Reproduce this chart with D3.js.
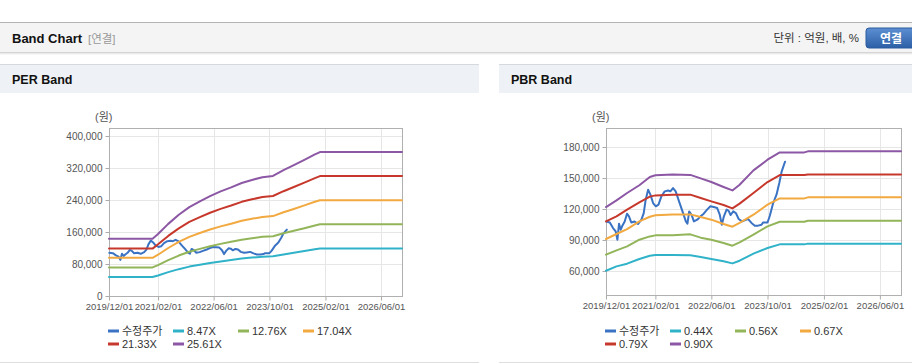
<!DOCTYPE html>
<html>
<head>
<meta charset="utf-8">
<script src="https://cdn.jsdelivr.net/npm/d3@7"></script>
<style>
  body { margin: 0; background: #fff; }
  svg { display: block; font-family: "Liberation Sans", "Noto Sans CJK KR", sans-serif; }
</style>
</head>
<body>
<div id="chart"></div>
<script>
// x axis
const xDomain = ["2019-12-01", "2026-12-01"]
const xTickDates = ["2019-12-01", "2021-02-01", "2022-06-01", "2023-10-01", "2025-02-01", "2026-06-01"]

// 수정주가 (shared by both charts)
const priceDates = [
  "2019-12-04", "2020-01-03", "2020-01-31", "2020-02-23", "2020-03-09", "2020-03-23", "2020-04-07", "2020-04-21",
  "2020-05-11", "2020-05-31", "2020-06-17", "2020-07-07", "2020-08-05", "2020-09-03", "2020-10-03", "2020-10-23",
  "2020-11-09", "2020-11-30", "2020-12-20", "2021-01-12", "2021-02-05", "2021-02-28", "2021-03-25", "2021-04-23",
  "2021-05-22", "2021-06-11", "2021-07-04", "2021-07-27", "2021-08-25", "2021-09-24", "2021-10-23", "2021-11-06",
  "2021-11-21", "2021-12-11", "2022-01-01", "2022-01-30", "2022-02-28", "2022-03-27", "2022-04-25", "2022-05-24",
  "2022-06-22", "2022-07-21", "2022-08-13", "2022-08-31", "2022-09-18", "2022-10-11", "2022-10-28", "2022-11-15",
  "2022-12-08", "2022-12-31", "2023-01-24", "2023-02-22", "2023-03-17", "2023-04-16", "2023-05-15", "2023-06-13",
  "2023-07-12", "2023-08-10", "2023-08-24", "2023-10-01", "2023-10-21", "2023-11-19", "2023-12-18", "2024-01-11",
  "2024-02-01", "2024-03-01"
]
const priceValues = [
  108000, 107000, 101600, 98400, 90300, 105800, 100000, 103900,
  108000, 115500, 112900, 107000, 108000, 105500, 109700, 116100,
  129000, 138700, 133900, 125800, 122600, 124200, 132300, 137100,
  138000, 137100, 140300, 137100, 127400, 117700, 108000, 105800,
  117700, 114500, 108000, 109700, 112900, 115500, 119400, 122600,
  121900, 121000, 114500, 104800, 112900, 119400, 118400, 114200,
  117700, 116100, 110300, 108000, 109000, 110300, 106500, 103900,
  103900, 104800, 107000, 107000, 113500, 125800, 133900, 145200,
  156500, 165800
]

// PER band
const perBandDates = [
  "2019-12-01", "2020-12-15", "2021-02-01", "2021-05-01", "2021-08-01", "2021-11-01", "2022-02-01",
  "2022-05-01", "2022-08-01", "2022-11-01", "2023-02-01", "2023-05-01", "2023-08-01", "2023-11-01",
  "2024-02-01", "2024-05-01", "2024-08-01", "2024-11-01", "2024-12-15", "2026-12-01"
]
const perLabels = ["8.47X", "12.76X", "17.04X", "21.33X", "25.61X"]
const per847 = [47400, 47400, 51300, 59600, 67100, 73500, 78200, 82600, 86500, 89900, 93500, 96000, 98200, 99300, 104000, 108100, 112600, 117000, 119000, 119000]
const per1276 = [71400, 71400, 77300, 89800, 101100, 110700, 117800, 124500, 130300, 135400, 140800, 144600, 147900, 149600, 156700, 162900, 169600, 176300, 179300, 179300]
const per1704 = [95400, 95400, 103200, 120000, 135100, 147900, 157400, 166300, 174100, 180800, 188000, 193100, 197600, 199800, 209300, 217600, 226600, 235500, 239400, 239400]
const per2133 = [118500, 118500, 129200, 150200, 169100, 185100, 197000, 208100, 217900, 226300, 235400, 241700, 247300, 250000, 262000, 272400, 283600, 294800, 299700, 299700]
const per2561 = [143400, 143400, 155100, 180300, 203000, 222200, 236500, 249900, 261600, 271700, 282600, 290200, 296900, 300200, 314500, 327000, 340500, 353900, 359800, 359800]
const perYTicks = [0, 80000, 160000, 240000, 320000, 400000]

// PBR band
const pbrBandDates = [
  "2019-12-01", "2020-03-01", "2020-06-01", "2020-09-15", "2020-12-15", "2021-02-01", "2021-07-01",
  "2021-12-01", "2022-03-01", "2022-06-01", "2022-09-15", "2022-12-01", "2023-02-01", "2023-06-01",
  "2023-10-01", "2024-01-15", "2024-08-15", "2024-09-15", "2026-12-01"
]
const pbrLabels = ["0.44X", "0.56X", "0.67X", "0.79X", "0.90X"]
const pbr044 = [60300, 64500, 67100, 71600, 74800, 75500, 75400, 75200, 73500, 71600, 69400, 67400, 70000, 76800, 82300, 85800, 85800, 86500, 86500]
const pbr056 = [75800, 80000, 83900, 90300, 93500, 94500, 94500, 95500, 92300, 90300, 87100, 84500, 87700, 95200, 103200, 107700, 107700, 108700, 108700]
const pbr067 = [91000, 95800, 100600, 108000, 112500, 113900, 114800, 114800, 112300, 109700, 105500, 102900, 106500, 114500, 124200, 130300, 130300, 131300, 131300]
const pbr079 = [108000, 112900, 119400, 126500, 132000, 133200, 133800, 133900, 130600, 127400, 123900, 120600, 125200, 135500, 146100, 152900, 152900, 153500, 153500]
const pbr090 = [121900, 128400, 135500, 143000, 151000, 152600, 153500, 153000, 149700, 146100, 141300, 138000, 143500, 157400, 167700, 174800, 174800, 175800, 175800]
const pbrYTicks = [60000, 90000, 120000, 150000, 180000]

const priceLabel = "수정주가"
const colors = ["#3b73c4", "#30b2c9", "#93b55a", "#f2a940", "#c7382c", "#8c57a4"]

const W = 912, H = 364
const parse = d3.timeParse("%Y-%m-%d")

const svg = d3.select("#chart").append("svg")
  .attr("width", W)
  .attr("height", H)

const defs = svg.append("defs")
const shadow = defs.append("linearGradient").attr("id", "shadow").attr("x1", 0).attr("y1", 0).attr("x2", 0).attr("y2", 1)
shadow.append("stop").attr("offset", 0).attr("stop-color", "#c8c8c8")
shadow.append("stop").attr("offset", 1).attr("stop-color", "#fff").attr("stop-opacity", 0)
const btn = defs.append("linearGradient").attr("id", "btn").attr("x1", 0).attr("y1", 0).attr("x2", 0).attr("y2", 1)
btn.append("stop").attr("offset", 0).attr("stop-color", "#5b8fd2")
btn.append("stop").attr("offset", 1).attr("stop-color", "#2d5fa6")

// Top header bar
svg.append("rect").attr("x", 0).attr("y", 22).attr("width", W).attr("height", 30).attr("fill", "#f4f4f4")
svg.append("line").attr("x1", 0).attr("x2", W).attr("y1", 22.5).attr("y2", 22.5).attr("stroke", "#b4b4b4")
svg.append("rect").attr("x", 0).attr("y", 52).attr("width", W).attr("height", 4).attr("fill", "url(#shadow)")
svg.append("text").attr("x", 12).attr("y", 43)
  .attr("font-size", 13).attr("font-weight", "bold").attr("fill", "#111")
  .text("Band Chart")
svg.append("text").attr("x", 88).attr("y", 43)
  .attr("font-size", 11.5).attr("fill", "#999")
  .text("[연결]")
svg.append("text").attr("x", 859).attr("y", 42)
  .attr("text-anchor", "end").attr("font-size", 11.5).attr("fill", "#333")
  .text("단위 : 억원, 배, %")
svg.append("rect").attr("x", 866).attr("y", 28).attr("width", 52).attr("height", 20).attr("rx", 3)
  .attr("fill", "url(#btn)").attr("stroke", "#2b5a9c")
svg.append("text").attr("x", 891).attr("y", 42.5)
  .attr("text-anchor", "middle").attr("font-size", 12).attr("font-weight", "bold").attr("fill", "#fff")
  .text("연결")

function drawPanel(cfg) {
  const g = svg.append("g")

  // panel header + body
  g.append("rect").attr("x", cfg.px).attr("y", 64).attr("width", cfg.pw).attr("height", 29).attr("fill", "#eef1f5")
  g.append("line").attr("x1", cfg.px).attr("x2", cfg.px + cfg.pw).attr("y1", 64.5).attr("y2", 64.5).attr("stroke", "#d6dae0")
  g.append("line").attr("x1", cfg.px).attr("x2", cfg.px + cfg.pw).attr("y1", 362.5).attr("y2", 362.5).attr("stroke", "#dedede")
  g.append("text").attr("x", cfg.px + 12).attr("y", 84)
    .attr("font-size", 12.5).attr("font-weight", "bold").attr("fill", "#111")
    .text(cfg.title)

  const x = d3.scaleTime().domain(xDomain.map(parse)).range([cfg.left, cfg.right])
  const y = d3.scaleLinear().domain(cfg.yDomain).range([cfg.bottom, cfg.top])
  const xTicks = xTickDates.map(parse)

  // grid
  g.append("g").selectAll("line").data(cfg.yTicks).join("line")
    .attr("x1", cfg.left).attr("x2", cfg.right)
    .attr("y1", d => Math.round(y(d)) + 0.5).attr("y2", d => Math.round(y(d)) + 0.5)
    .attr("stroke", "#e6e6e6")
  g.append("g").selectAll("line").data(xTicks).join("line")
    .attr("x1", d => Math.round(x(d)) + 0.5).attr("x2", d => Math.round(x(d)) + 0.5)
    .attr("y1", cfg.top).attr("y2", cfg.bottom)
    .attr("stroke", "#e6e6e6")

  // axes
  const yAxis = g.append("g")
    .attr("transform", `translate(${cfg.left + 0.5},0)`)
    .call(d3.axisLeft(y).tickValues(cfg.yTicks).tickSize(4).tickPadding(3).tickFormat(d3.format(",")))
  yAxis.select(".domain").remove()
  yAxis.selectAll("line").attr("stroke", "#aaa")
  yAxis.selectAll("text").attr("font-size", 10).attr("fill", "#555").attr("font-family", "Liberation Sans")

  const xAxis = g.append("g")
    .attr("transform", `translate(0,${cfg.bottom + 0.5})`)
    .call(d3.axisBottom(x).tickValues(xTicks).tickSize(4).tickPadding(3).tickFormat(d3.timeFormat("%Y/%m/%d")))
  xAxis.select(".domain").remove()
  xAxis.selectAll("line").attr("stroke", "#aaa")
  xAxis.selectAll("text").attr("font-size", 9.5).attr("fill", "#555").attr("font-family", "Liberation Sans")

  g.append("rect")
    .attr("x", cfg.left + 0.5).attr("y", cfg.top + 0.5)
    .attr("width", cfg.right - cfg.left).attr("height", cfg.bottom - cfg.top)
    .attr("fill", "none").attr("stroke", "#b0b0b0")

  g.append("text").attr("x", cfg.left - 14).attr("y", 121)
    .attr("font-size", 11).attr("fill", "#555")
    .text("(원)")

  // lines
  const line = d3.line().x(d => x(d[0])).y(d => y(d[1]))
  const series = [{ label: priceLabel, dates: priceDates, values: priceValues }]
  cfg.bands.forEach((vals, i) => series.push({ label: cfg.labels[i], dates: cfg.bandDates, values: vals }))

  g.append("g").selectAll("path").data(series).join("path")
    .attr("d", s => line(s.dates.map((d, i) => [parse(d), s.values[i]])))
    .attr("fill", "none")
    .attr("stroke", (s, i) => colors[i])
    .attr("stroke-width", 2)
    .attr("stroke-linejoin", "round")
    .attr("stroke-linecap", "round")

  // legend
  const leg = g.append("g").selectAll("g").data(series).join("g")
    .attr("transform", (s, i) => `translate(${cfg.left - 1 + (i % 4) * 65},${i < 4 ? 331 : 344})`)
  leg.append("line").attr("x1", 0).attr("x2", 11)
    .attr("stroke", (s, i) => colors[i]).attr("stroke-width", 3)
  leg.append("text").attr("x", 14).attr("y", 4)
    .attr("font-size", 11).attr("fill", "#333")
    .text(s => s.label)
}

drawPanel({
  title: "PER Band", px: 0, pw: 479,
  left: 109, right: 402, top: 128, bottom: 296,
  yDomain: [0, 420000], yTicks: perYTicks,
  bandDates: perBandDates, labels: perLabels,
  bands: [per847, per1276, per1704, per2133, per2561]
})

drawPanel({
  title: "PBR Band", px: 499, pw: 413,
  left: 606, right: 901, top: 128, bottom: 295,
  yDomain: [36800, 198400], yTicks: pbrYTicks,
  bandDates: pbrBandDates, labels: pbrLabels,
  bands: [pbr044, pbr056, pbr067, pbr079, pbr090]
})
</script>
</body>
</html>
